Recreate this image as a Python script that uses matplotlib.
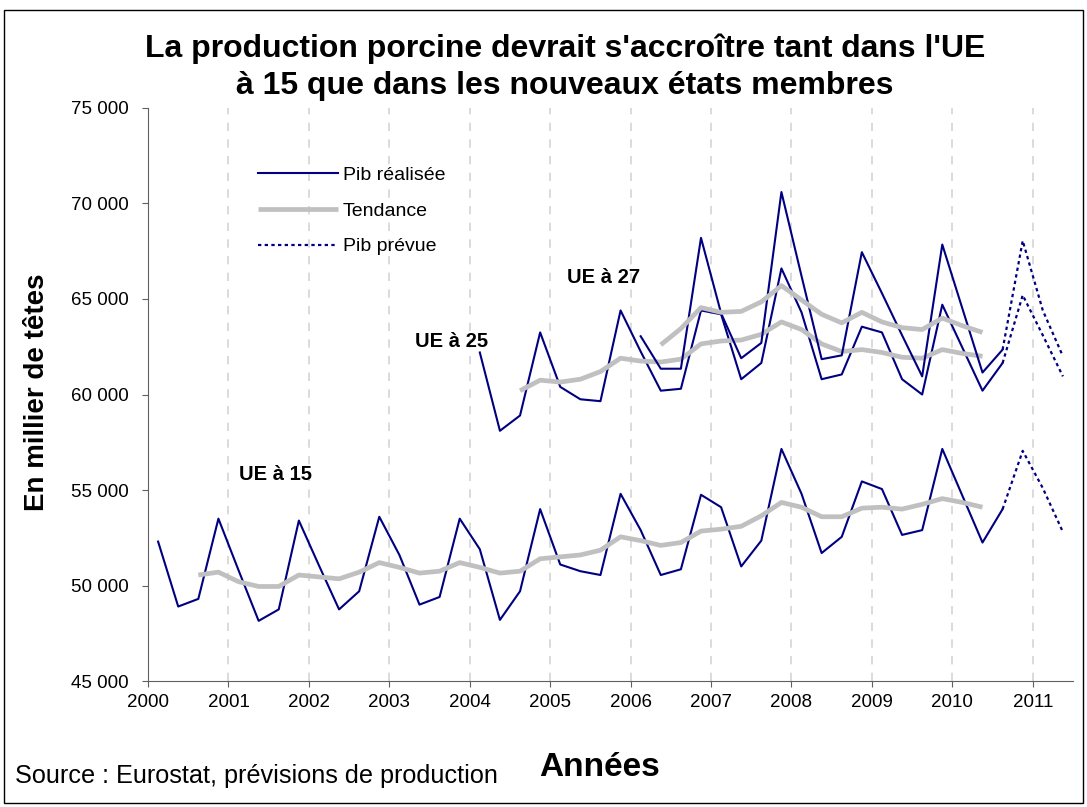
import matplotlib
matplotlib.use("Agg")
import matplotlib.pyplot as plt
from matplotlib.patches import Rectangle
from matplotlib.ticker import FuncFormatter

# quarter index 0 = 2000 T1 ... 45 = 2011 T2 (points drawn mid-quarter)
eu15_real = [52300, 48900, 49300, 53500, 50800, 48150, 48750, 53400, 51050, 48750,
             49700, 53600, 51600, 49000, 49400, 53500, 51900, 48200, 49700, 54000,
             51100, 50750, 50550, 54800, 52900, 50550, 50850, 54750, 54100, 51000,
             52350, 57150, 54800, 51700, 52550, 55450, 55050, 52650, 52900, 57150,
             54700, 52250, 54000]
eu15_trend = [50550, 50700, 50200, 49950, 49950, 50550, 50450, 50350, 50700, 51200,
              50950, 50650, 50750, 51200, 50950, 50650, 50750, 51400, 51500, 51600,
              51850, 52550, 52350, 52100, 52250, 52850, 52950, 53100, 53650, 54350,
              54100, 53600, 53600, 54050, 54100, 54000, 54250, 54550, 54350, 54100]
eu25_real = [62200, 58100, 58900, 63250, 60400, 59750, 59650, 64400, 62250, 60200,
             60300, 64400, 64200, 60800, 61650, 66600, 64300, 60800, 61050, 63550,
             63250, 60800, 60000, 64700, 62450, 60200, 61650]
eu25_trend = [60200, 60750, 60650, 60800, 61200, 61900, 61750, 61700, 61850, 62650,
              62800, 62850, 63150, 63800, 63400, 62650, 62250, 62350, 62200, 61950,
              61900, 62350, 62150, 62000]
eu27_real = [63050, 61350, 61350, 68200, 64250, 61900, 62700, 70600, 66200, 61850,
             62050, 67450, 65300, 63100, 60950, 67850, 64500, 61150, 62350]
eu27_trend = [62600, 63450, 64550, 64300, 64350, 64850, 65700, 64950, 64200, 63750,
              64300, 63800, 63500, 63400, 64000, 63600, 63250]
eu15_prev = [54000, 57050, 55100, 52800]
eu25_prev = [61650, 65200, 63100, 60950]
eu27_prev = [62350, 68050, 64400, 62000]

years = list(range(2000, 2012))
labels = [("UE à 15", 2001.59, 55800), ("UE à 25", 2003.77, 62800), ("UE à 27", 2005.66, 66150)]


def qx(start, n):
    return [2000 + (start + i + 0.5) / 4 for i in range(n)]


plt.rcParams['font.family'] = ['Liberation Sans', 'DejaVu Sans']
navy = '#000080'
grey = '#c0c0c0'

fig = plt.figure(figsize=(10.87, 8.07), dpi=100)
ax = fig.add_axes([0.1362, 0.1561, 0.8509, 0.7101])

for x in years[1:]:
    ax.axvline(x, color='#d4d4d4', lw=1.2, ls=(0, (5, 5)), zorder=0)

ax.plot(qx(0, len(eu15_real)), eu15_real, color=navy, lw=1.5, label='Pib réalisée')
ax.plot(qx(2, len(eu15_trend)), eu15_trend, color=grey, lw=3.4, solid_capstyle='butt', label='Tendance')
ax.plot(qx(42, 4), eu15_prev, color=navy, lw=1.6, ls=(0, (1.5, 1.5)), label='Pib prévue')

ax.plot(qx(16, len(eu25_real)), eu25_real, color=navy, lw=1.5)
ax.plot(qx(18, len(eu25_trend)), eu25_trend, color=grey, lw=3.4, solid_capstyle='butt')
ax.plot(qx(42, 4), eu25_prev, color=navy, lw=1.6, ls=(0, (1.5, 1.5)))

ax.plot(qx(24, len(eu27_real)), eu27_real, color=navy, lw=1.5)
ax.plot(qx(25, len(eu27_trend)), eu27_trend, color=grey, lw=3.4, solid_capstyle='butt')
ax.plot(qx(42, 4), eu27_prev, color=navy, lw=1.6, ls=(0, (1.5, 1.5)))

for txt, x, y in labels:
    ax.text(x, y, txt, ha='center', va='center', fontsize=14.5, fontweight='bold')

ax.set_xlim(2000, 2011.5)
ax.set_ylim(45000, 75000)
ax.set_xticks(years)
ax.set_yticks(range(45000, 75001, 5000))
ax.yaxis.set_major_formatter(FuncFormatter(lambda v, p: f"{int(v):,}".replace(",", " ")))
ax.tick_params(axis='both', labelsize=13.5, direction='out', length=4, color='#606060')
ax.tick_params(axis='y', pad=10)
ax.tick_params(axis='x', pad=5)
for s in ['top', 'right']:
    ax.spines[s].set_visible(False)
for s in ['left', 'bottom']:
    ax.spines[s].set_color('#606060')

leg = ax.legend(loc='upper left', bbox_to_anchor=(0.119, 0.898), frameon=False, fontsize=14,
                handlelength=4.1, handletextpad=0.25, labelspacing=0.93, borderpad=0, borderaxespad=0)

fig.text(0.52, 0.940, "La production porcine devrait s'accroître tant dans l'UE",
         ha='center', va='center', fontsize=23, fontweight='bold')
fig.text(0.52, 0.894, "à 15 que dans les nouveaux états membres",
         ha='center', va='center', fontsize=23, fontweight='bold')
fig.text(0.034, 0.514, "En millier de têtes", rotation=90, ha='center', va='center',
         fontsize=20, fontweight='bold')
fig.text(0.552, 0.049, "Années", ha='center', va='center', fontsize=24, fontweight='bold')
fig.text(0.014, 0.038, "Source : Eurostat, prévisions de production", ha='left', va='center', fontsize=18.2)

fig.patches.append(Rectangle((0.004, 0.005), 0.992, 0.983, transform=fig.transFigure,
                             fill=False, edgecolor='black', lw=1))

fig.savefig('out.png', dpi=100)
